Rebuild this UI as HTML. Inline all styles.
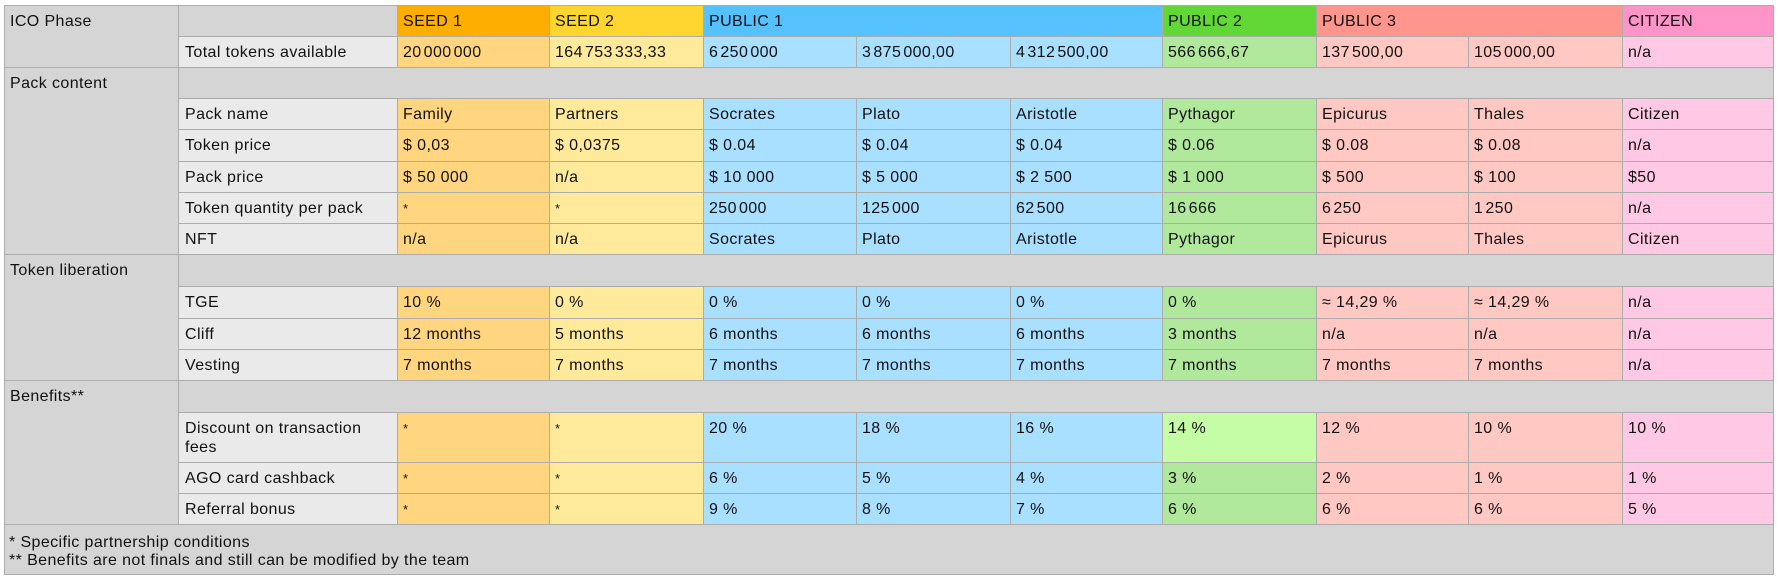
<!DOCTYPE html>
<html>
<head>
<meta charset="utf-8">
<style>
  html,body{margin:0;padding:0;background:#fff;}
  body{width:1778px;height:581px;overflow:hidden;position:relative;}
  .tbl{
    position:absolute;left:4px;top:5px;
    width:1770px;height:570px;box-sizing:border-box;
    display:grid;
    grid-template-columns:173px 218px 151px 153px 152px 153px 151px 153px 151px 153px 150px;
    grid-template-rows:30px 30px 30px 30px 31px 30px 30px 30px 31px 31px 30px 30px 31px 49px 30px 30px 49px;
    gap:1px;padding:1px;background:#acacac;
    font-family:"Liberation Sans",Arial,sans-serif;
  }
  .tbl>div{
    font-size:16px;line-height:19px;letter-spacing:0.4px;color:#111;
    padding:6px 3px 0 5px;white-space:nowrap;overflow:hidden;box-sizing:border-box;
  }
  .g{background:#d5d5d5;}
  .s{background:#eaeaea;padding-left:6px !important;}
  .o1{background:#feae00;} .o{background:#ffd57f;}
  .y1{background:#fed62f;} .y{background:#ffe99a;}
  .b1{background:#56c1ff;} .b{background:#a9dfff;}
  .n1{background:#61d836;} .n{background:#b1e99c;} .n2{background:#c4fda5;}
  .r1{background:#ff968d;} .r{background:#ffc8c3;}
  .p1{background:#ff94c9;} .p{background:#ffc8e4;}
  .t{letter-spacing:-2.4px;}
  .st{font-size:13px;}
  .foot{grid-column:1 / -1;grid-row:17;background:#d5d5d5;padding:9px 4px 0 4px !important;line-height:18px !important;}
</style>
</head>
<body>
<div class="tbl">
  <div class="g" style="grid-column:1;grid-row:1 / span 2;">ICO Phase</div>
  <div class="g" style="grid-column:1;grid-row:3 / span 6;">Pack content</div>
  <div class="g" style="grid-column:1;grid-row:9 / span 4;">Token liberation</div>
  <div class="g" style="grid-column:1;grid-row:13 / span 4;">Benefits**</div>
  <div class="foot">* Specific partnership conditions<br>** Benefits are not finals and still can be modified by the team</div>

  <div class="g"></div>
  <div class="o1">SEED 1</div>
  <div class="y1">SEED 2</div>
  <div class="b1" style="grid-column:span 3;">PUBLIC 1</div>
  <div class="n1">PUBLIC 2</div>
  <div class="r1" style="grid-column:span 2;">PUBLIC 3</div>
  <div class="p1">CITIZEN</div>

  <div class="s">Total tokens available</div>
  <div class="o">20<span class="t">&nbsp;</span>000<span class="t">&nbsp;</span>000</div>
  <div class="y">164<span class="t">&nbsp;</span>753<span class="t">&nbsp;</span>333,33</div>
  <div class="b">6<span class="t">&nbsp;</span>250<span class="t">&nbsp;</span>000</div>
  <div class="b">3<span class="t">&nbsp;</span>875<span class="t">&nbsp;</span>000,00</div>
  <div class="b">4<span class="t">&nbsp;</span>312<span class="t">&nbsp;</span>500,00</div>
  <div class="n">566<span class="t">&nbsp;</span>666,67</div>
  <div class="r">137<span class="t">&nbsp;</span>500,00</div>
  <div class="r">105<span class="t">&nbsp;</span>000,00</div>
  <div class="p">n/a</div>

  <div class="g" style="grid-column:span 10;"></div>

  <div class="s">Pack name</div>
  <div class="o">Family</div>
  <div class="y">Partners</div>
  <div class="b">Socrates</div>
  <div class="b">Plato</div>
  <div class="b">Aristotle</div>
  <div class="n">Pythagor</div>
  <div class="r">Epicurus</div>
  <div class="r">Thales</div>
  <div class="p">Citizen</div>

  <div class="s">Token price</div>
  <div class="o">$ 0,03</div>
  <div class="y">$ 0,0375</div>
  <div class="b">$ 0.04</div>
  <div class="b">$ 0.04</div>
  <div class="b">$ 0.04</div>
  <div class="n">$ 0.06</div>
  <div class="r">$ 0.08</div>
  <div class="r">$ 0.08</div>
  <div class="p">n/a</div>

  <div class="s">Pack price</div>
  <div class="o">$ 50 000</div>
  <div class="y">n/a</div>
  <div class="b">$ 10 000</div>
  <div class="b">$ 5 000</div>
  <div class="b">$ 2 500</div>
  <div class="n">$ 1 000</div>
  <div class="r">$ 500</div>
  <div class="r">$ 100</div>
  <div class="p">$50</div>

  <div class="s">Token quantity per pack</div>
  <div class="o"><span class="st">*</span></div>
  <div class="y"><span class="st">*</span></div>
  <div class="b">250<span class="t">&nbsp;</span>000</div>
  <div class="b">125<span class="t">&nbsp;</span>000</div>
  <div class="b">62<span class="t">&nbsp;</span>500</div>
  <div class="n">16<span class="t">&nbsp;</span>666</div>
  <div class="r">6<span class="t">&nbsp;</span>250</div>
  <div class="r">1<span class="t">&nbsp;</span>250</div>
  <div class="p">n/a</div>

  <div class="s">NFT</div>
  <div class="o">n/a</div>
  <div class="y">n/a</div>
  <div class="b">Socrates</div>
  <div class="b">Plato</div>
  <div class="b">Aristotle</div>
  <div class="n">Pythagor</div>
  <div class="r">Epicurus</div>
  <div class="r">Thales</div>
  <div class="p">Citizen</div>

  <div class="g" style="grid-column:span 10;"></div>

  <div class="s">TGE</div>
  <div class="o">10 %</div>
  <div class="y">0 %</div>
  <div class="b">0 %</div>
  <div class="b">0 %</div>
  <div class="b">0 %</div>
  <div class="n">0 %</div>
  <div class="r">≈ 14,29 %</div>
  <div class="r">≈ 14,29 %</div>
  <div class="p">n/a</div>

  <div class="s">Cliff</div>
  <div class="o">12 months</div>
  <div class="y">5 months</div>
  <div class="b">6 months</div>
  <div class="b">6 months</div>
  <div class="b">6 months</div>
  <div class="n">3 months</div>
  <div class="r">n/a</div>
  <div class="r">n/a</div>
  <div class="p">n/a</div>

  <div class="s">Vesting</div>
  <div class="o">7 months</div>
  <div class="y">7 months</div>
  <div class="b">7 months</div>
  <div class="b">7 months</div>
  <div class="b">7 months</div>
  <div class="n">7 months</div>
  <div class="r">7 months</div>
  <div class="r">7 months</div>
  <div class="p">n/a</div>

  <div class="g" style="grid-column:span 10;"></div>

  <div class="s">Discount on transaction<br>fees</div>
  <div class="o"><span class="st">*</span></div>
  <div class="y"><span class="st">*</span></div>
  <div class="b">20 %</div>
  <div class="b">18 %</div>
  <div class="b">16 %</div>
  <div class="n2">14 %</div>
  <div class="r">12 %</div>
  <div class="r">10 %</div>
  <div class="p">10 %</div>

  <div class="s">AGO card cashback</div>
  <div class="o"><span class="st">*</span></div>
  <div class="y"><span class="st">*</span></div>
  <div class="b">6 %</div>
  <div class="b">5 %</div>
  <div class="b">4 %</div>
  <div class="n">3 %</div>
  <div class="r">2 %</div>
  <div class="r">1 %</div>
  <div class="p">1 %</div>

  <div class="s">Referral bonus</div>
  <div class="o"><span class="st">*</span></div>
  <div class="y"><span class="st">*</span></div>
  <div class="b">9 %</div>
  <div class="b">8 %</div>
  <div class="b">7 %</div>
  <div class="n">6 %</div>
  <div class="r">6 %</div>
  <div class="r">6 %</div>
  <div class="p">5 %</div>
</div>
</body>
</html>
